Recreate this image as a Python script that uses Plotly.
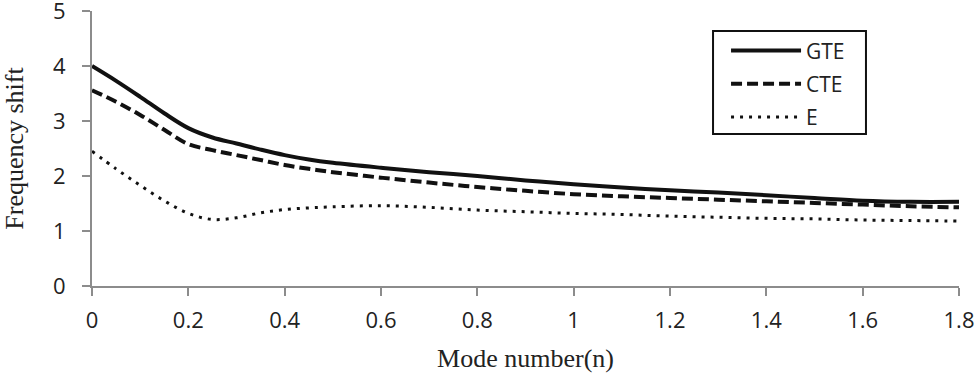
import plotly.graph_objects as go

mode_n = [0, 0.05, 0.1, 0.15, 0.2, 0.25, 0.3, 0.35, 0.4, 0.45, 0.5, 0.6, 0.7, 0.8, 0.9, 1.0, 1.1, 1.2, 1.3, 1.4, 1.5, 1.6, 1.7, 1.8]
gte = [4.0, 3.73, 3.44, 3.14, 2.87, 2.70, 2.59, 2.48, 2.38, 2.30, 2.24, 2.15, 2.07, 2.0, 1.92, 1.85, 1.79, 1.74, 1.70, 1.65, 1.60, 1.55, 1.53, 1.53]
cte = [3.56, 3.35, 3.11, 2.84, 2.58, 2.47, 2.38, 2.29, 2.20, 2.13, 2.07, 1.97, 1.88, 1.80, 1.73, 1.67, 1.63, 1.60, 1.57, 1.54, 1.51, 1.48, 1.45, 1.43]
e_vals = [2.45, 2.13, 1.83, 1.55, 1.32, 1.21, 1.24, 1.33, 1.39, 1.42, 1.44, 1.46, 1.43, 1.38, 1.35, 1.32, 1.30, 1.27, 1.25, 1.23, 1.22, 1.20, 1.19, 1.18]

x_ticks = [0, 0.2, 0.4, 0.6, 0.8, 1, 1.2, 1.4, 1.6, 1.8]
x_tick_labels = ["0", "0.2", "0.4", "0.6", "0.8", "1", "1.2", "1.4", "1.6", "1.8"]
y_ticks = [0, 1, 2, 3, 4, 5]

fig = go.Figure()
fig.add_trace(go.Scatter(x=mode_n, y=gte, name="GTE", mode="lines", legendgroup="a",
                         line=dict(color="#111111", width=4, shape="spline", smoothing=1)))
fig.add_trace(go.Scatter(x=mode_n, y=cte, name="CTE", mode="lines", legendgroup="b",
                         line=dict(color="#111111", width=4, dash="11px,5px", shape="spline", smoothing=1)))
fig.add_trace(go.Scatter(x=mode_n, y=e_vals, name="E", mode="lines", legendgroup="c",
                         line=dict(color="#111111", width=3, dash="3px,6px", shape="spline", smoothing=1)))

axis_font = dict(family="Open Sans", size=22, color="#222222")
title_font = dict(family="Liberation Serif", size=26, color="#222222")

# legend frame drawn as a shape (paper coords)
fig.add_shape(type="rect", xref="paper", yref="paper",
              x0=0.7163, x1=0.8927, y0=0.5527, y1=0.9273,
              line=dict(color="#111111", width=2), fillcolor="white", layer="above")

fig.update_layout(
    width=976, height=374,
    margin=dict(l=92, r=17, t=11, b=88, autoexpand=False),
    paper_bgcolor="white", plot_bgcolor="white",
    showlegend=True,
    legend=dict(x=0.7313, y=0.93, xanchor="left", yanchor="top",
                borderwidth=0, bgcolor="rgba(0,0,0,0)",
                font=dict(family="Open Sans", size=21, color="#222222"),
                itemwidth=70, tracegroupgap=3, traceorder="grouped"),
    xaxis=dict(range=[0, 1.8], tickvals=x_ticks, ticktext=x_tick_labels, automargin=False,
               showgrid=False, zeroline=False, showline=True, linecolor="#8c8c8c", linewidth=2,
               ticks="outside", ticklen=8, tickwidth=2, tickcolor="#8c8c8c",
               tickfont=axis_font, ticklabelstandoff=6, ticklabeloverflow="allow",
               title=dict(text="Mode number(n)", font=title_font, standoff=15)),
    yaxis=dict(range=[0, 5], tickvals=y_ticks, automargin=False,
               showgrid=False, zeroline=False, showline=True, linecolor="#8c8c8c", linewidth=2,
               ticks="outside", ticklen=8, tickwidth=2, tickcolor="#8c8c8c",
               tickfont=axis_font, ticklabelstandoff=12, ticklabeloverflow="allow",
               title=dict(text="Frequency shift", font=title_font, standoff=26)),
)

fig.write_html("out.html", config={"displayModeBar": False},
               post_script="document.body.style.margin='0';document.body.style.overflow='hidden';")
